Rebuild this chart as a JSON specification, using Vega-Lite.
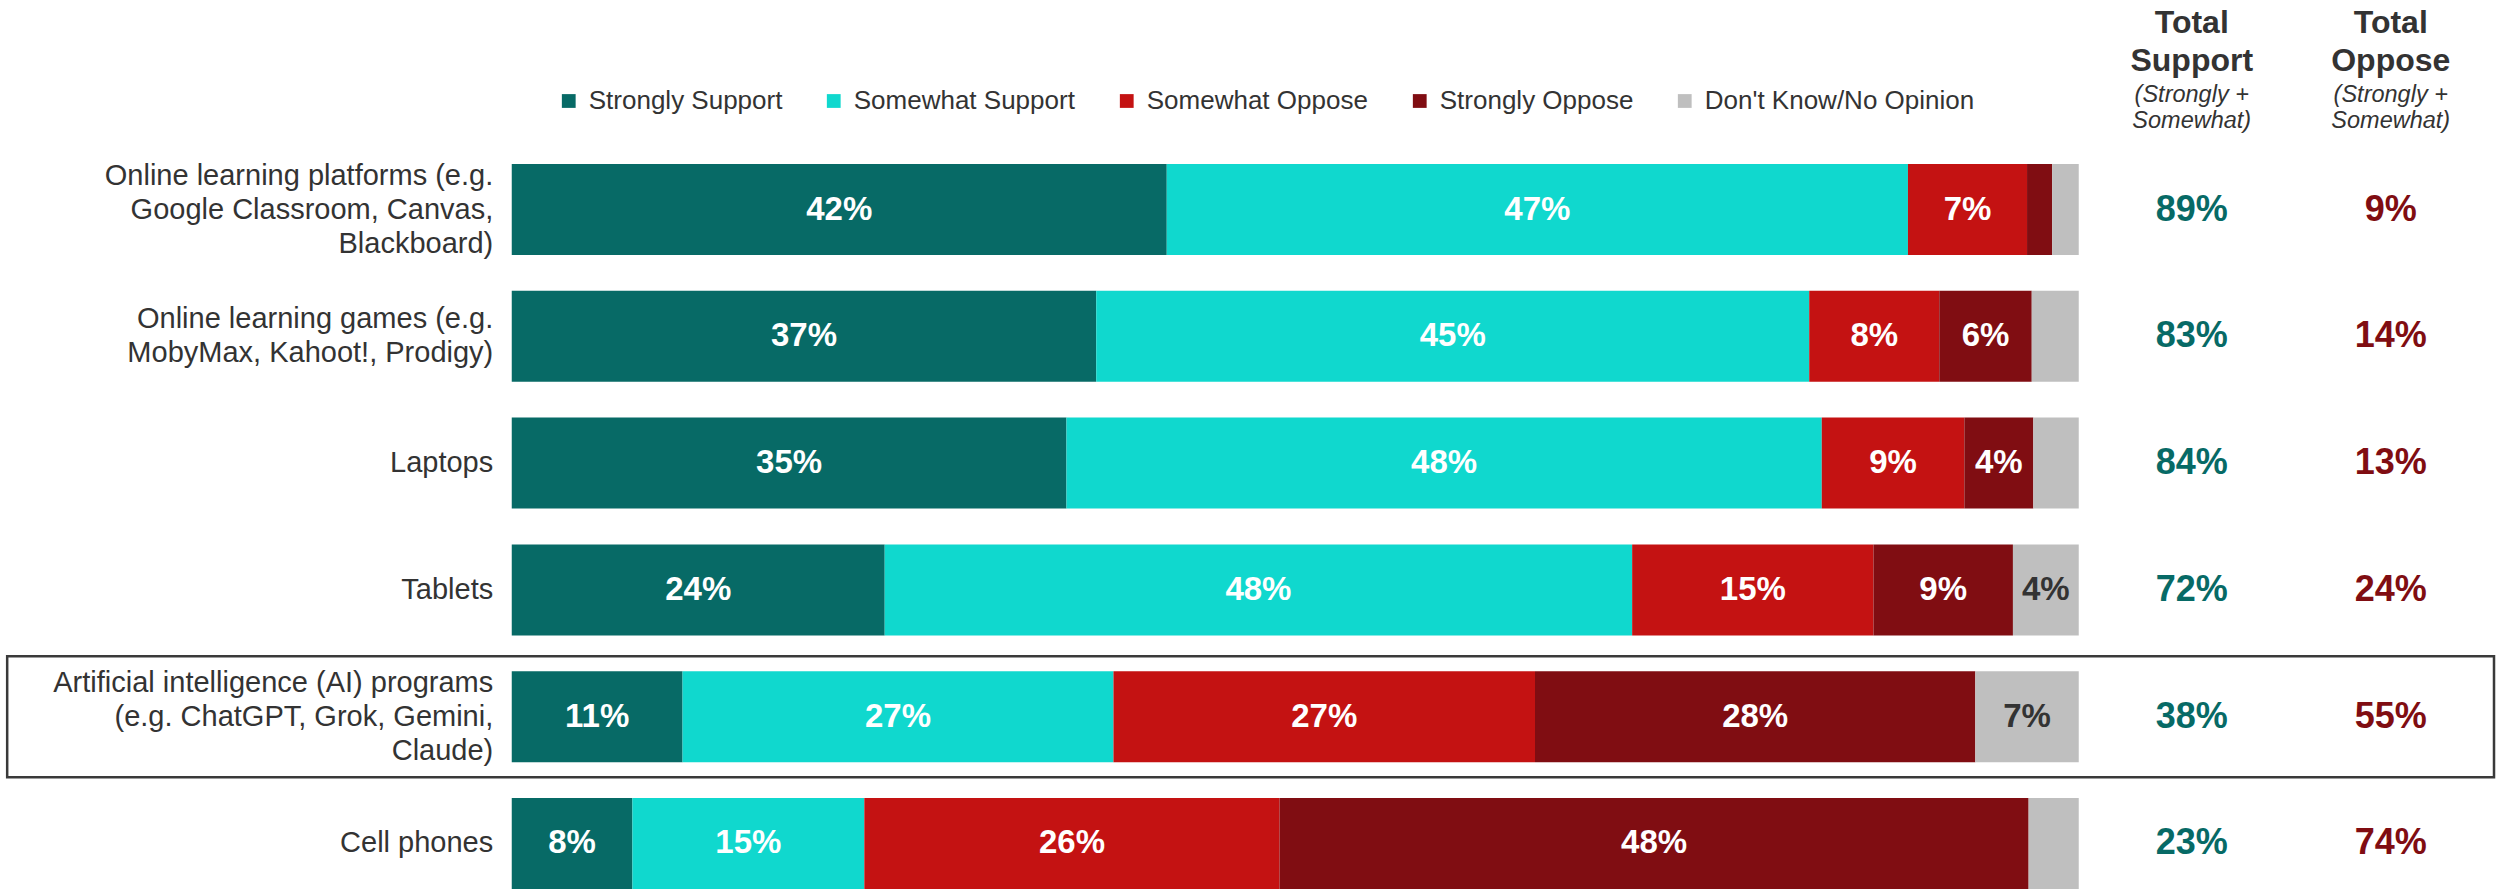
{
  "$schema": "https://vega.github.io/schema/vega-lite/v6.json",
  "padding": {"left": 5.75, "top": 6, "right": 0, "bottom": 0},
  "background": "white",
  "spacing": 0,
  "bounds": "flush",
  "config": {
    "font": "Liberation Sans",
    "view": {"stroke": null},
    "title": {
      "font": "Liberation Sans",
      "fontSize": 32,
      "fontWeight": "bold",
      "color": "#333333",
      "lineHeight": 38,
      "subtitleFont": "Liberation Sans",
      "subtitleFontSize": 23.5,
      "subtitleFontStyle": "italic",
      "subtitleColor": "#333333",
      "subtitleLineHeight": 26,
      "subtitlePadding": 5,
      "anchor": "middle",
      "offset": 31
    }
  },
  "datasets": {
    "resp": [
      {"item": "Online learning platforms (e.g.\nGoogle Classroom, Canvas,\nBlackboard)", "resp": "Strongly Support", "value": 41.8, "lab": "42%"},
      {"item": "Online learning platforms (e.g.\nGoogle Classroom, Canvas,\nBlackboard)", "resp": "Somewhat Support", "value": 47.3, "lab": "47%"},
      {"item": "Online learning platforms (e.g.\nGoogle Classroom, Canvas,\nBlackboard)", "resp": "Somewhat Oppose", "value": 7.6, "lab": "7%"},
      {"item": "Online learning platforms (e.g.\nGoogle Classroom, Canvas,\nBlackboard)", "resp": "Strongly Oppose", "value": 1.6, "lab": null},
      {"item": "Online learning platforms (e.g.\nGoogle Classroom, Canvas,\nBlackboard)", "resp": "Don't Know/No Opinion", "value": 1.7, "lab": null},
      {"item": "Online learning games (e.g.\nMobyMax, Kahoot!, Prodigy)", "resp": "Strongly Support", "value": 37.3, "lab": "37%"},
      {"item": "Online learning games (e.g.\nMobyMax, Kahoot!, Prodigy)", "resp": "Somewhat Support", "value": 45.5, "lab": "45%"},
      {"item": "Online learning games (e.g.\nMobyMax, Kahoot!, Prodigy)", "resp": "Somewhat Oppose", "value": 8.3, "lab": "8%"},
      {"item": "Online learning games (e.g.\nMobyMax, Kahoot!, Prodigy)", "resp": "Strongly Oppose", "value": 5.9, "lab": "6%"},
      {"item": "Online learning games (e.g.\nMobyMax, Kahoot!, Prodigy)", "resp": "Don't Know/No Opinion", "value": 3.0, "lab": null},
      {"item": "Laptops", "resp": "Strongly Support", "value": 35.4, "lab": "35%"},
      {"item": "Laptops", "resp": "Somewhat Support", "value": 48.2, "lab": "48%"},
      {"item": "Laptops", "resp": "Somewhat Oppose", "value": 9.1, "lab": "9%"},
      {"item": "Laptops", "resp": "Strongly Oppose", "value": 4.4, "lab": "4%"},
      {"item": "Laptops", "resp": "Don't Know/No Opinion", "value": 2.9, "lab": null},
      {"item": "Tablets", "resp": "Strongly Support", "value": 23.8, "lab": "24%"},
      {"item": "Tablets", "resp": "Somewhat Support", "value": 47.7, "lab": "48%"},
      {"item": "Tablets", "resp": "Somewhat Oppose", "value": 15.4, "lab": "15%"},
      {"item": "Tablets", "resp": "Strongly Oppose", "value": 8.9, "lab": "9%"},
      {"item": "Tablets", "resp": "Don't Know/No Opinion", "value": 4.2, "lab": "4%"},
      {"item": "Artificial intelligence (AI) programs\n(e.g. ChatGPT, Grok, Gemini,\nClaude)", "resp": "Strongly Support", "value": 10.9, "lab": "11%"},
      {"item": "Artificial intelligence (AI) programs\n(e.g. ChatGPT, Grok, Gemini,\nClaude)", "resp": "Somewhat Support", "value": 27.5, "lab": "27%"},
      {"item": "Artificial intelligence (AI) programs\n(e.g. ChatGPT, Grok, Gemini,\nClaude)", "resp": "Somewhat Oppose", "value": 26.9, "lab": "27%"},
      {"item": "Artificial intelligence (AI) programs\n(e.g. ChatGPT, Grok, Gemini,\nClaude)", "resp": "Strongly Oppose", "value": 28.1, "lab": "28%"},
      {"item": "Artificial intelligence (AI) programs\n(e.g. ChatGPT, Grok, Gemini,\nClaude)", "resp": "Don't Know/No Opinion", "value": 6.6, "lab": "7%"},
      {"item": "Cell phones", "resp": "Strongly Support", "value": 7.7, "lab": "8%"},
      {"item": "Cell phones", "resp": "Somewhat Support", "value": 14.8, "lab": "15%"},
      {"item": "Cell phones", "resp": "Somewhat Oppose", "value": 26.5, "lab": "26%"},
      {"item": "Cell phones", "resp": "Strongly Oppose", "value": 47.8, "lab": "48%"},
      {"item": "Cell phones", "resp": "Don't Know/No Opinion", "value": 3.2, "lab": null}
    ],
    "totals": [
      {"item": "Online learning platforms (e.g.\nGoogle Classroom, Canvas,\nBlackboard)", "support": 0.89, "oppose": 0.09},
      {"item": "Online learning games (e.g.\nMobyMax, Kahoot!, Prodigy)", "support": 0.83, "oppose": 0.14},
      {"item": "Laptops", "support": 0.84, "oppose": 0.13},
      {"item": "Tablets", "support": 0.72, "oppose": 0.24},
      {"item": "Artificial intelligence (AI) programs\n(e.g. ChatGPT, Grok, Gemini,\nClaude)", "support": 0.38, "oppose": 0.55},
      {"item": "Cell phones", "support": 0.23, "oppose": 0.74}
    ]
  },
  "hconcat": [
    {
      "width": 1567,
      "height": 725,
      "data": {"name": "resp"},
      "transform": [{"stack": "value", "groupby": ["item"], "as": ["v0", "v1"]}],
      "encoding": {
        "y": {
          "field": "item",
          "type": "nominal",
          "sort": null,
          "scale": {"paddingInner": 0.282, "paddingOuter": 0},
          "axis": {
            "title": null,
            "ticks": false,
            "domain": false,
            "labelPadding": 19,
            "labelFontSize": 29,
            "labelColor": "#333333",
            "labelLineHeight": 34,
            "labelLimit": 1000,
            "labelOffset": {
              "condition": [
                {"test": "length(split(datum.value, '\\n')) == 3", "value": -34},
                {"test": "length(split(datum.value, '\\n')) == 2", "value": -17}
              ],
              "value": 0
            },
            "labelExpr": "split(datum.label, '\\n')"
          }
        }
      },
      "layer": [
        {
          "mark": {"type": "bar"},
          "encoding": {
            "x": {"field": "v0", "type": "quantitative", "scale": {"domain": [0, 100], "nice": false}, "axis": null},
            "x2": {"field": "v1"},
            "color": {
              "field": "resp",
              "type": "nominal",
              "scale": {
                "domain": ["Strongly Support", "Somewhat Support", "Somewhat Oppose", "Strongly Oppose", "Don't Know/No Opinion"],
                "range": ["#076A66", "#10D8CE", "#C41212", "#800D12", "#BFBFBF"]
              },
              "legend": {
                "orient": "none",
                "legendX": 44,
                "legendY": -76,
                "direction": "horizontal",
                "title": null,
                "symbolType": "square",
                "symbolSize": 190,
                "symbolStrokeWidth": 0,
                "labelFontSize": 26,
                "labelColor": "#333333",
                "labelOffset": 7,
                "labelLimit": 600,
                "columnPadding": 38,
                "padding": 0
              }
            }
          }
        },
        {
          "transform": [{"filter": "isValid(datum.lab)"}],
          "mark": {"type": "text", "fontSize": 33, "fontWeight": "bold"},
          "encoding": {
            "x": {"field": "value", "type": "quantitative", "stack": "zero", "bandPosition": 0.5},
            "detail": {"field": "resp"},
            "order": {"field": "v0", "type": "quantitative"},
            "text": {"field": "lab"},
            "color": {
              "condition": {"test": "indexof(datum.resp, 'Know') >= 0", "value": "#333333"},
              "value": "white"
            }
          }
        },
        {
          "transform": [{"filter": "indexof(datum.item, 'Artificial') >= 0 && datum.resp === 'Strongly Support'"}],
          "mark": {"type": "rect", "fill": null, "stroke": "#3a3a3a", "strokeWidth": 2.5, "height": {"band": 1.33}},
          "encoding": {
            "x": {"datum": -32.2},
            "x2": {"datum": 126.5}
          }
        }
      ]
    },
    {
      "width": 226,
      "height": 725,
      "data": {"name": "totals"},
      "title": {"text": ["Total", "Support"], "subtitle": ["(Strongly +", "Somewhat)"]},
      "mark": {"type": "text", "fontSize": 36, "fontWeight": "bold", "color": "#076A66"},
      "encoding": {
        "y": {"field": "item", "type": "nominal", "sort": null, "scale": {"type": "band", "paddingInner": 0.282, "paddingOuter": 0}, "axis": null},
        "text": {"field": "support", "type": "quantitative", "format": ".0%"}
      }
    },
    {
      "width": 172,
      "height": 725,
      "data": {"name": "totals"},
      "title": {"text": ["Total", "Oppose"], "subtitle": ["(Strongly +", "Somewhat)"]},
      "mark": {"type": "text", "fontSize": 36, "fontWeight": "bold", "color": "#800D12"},
      "encoding": {
        "y": {"field": "item", "type": "nominal", "sort": null, "scale": {"type": "band", "paddingInner": 0.282, "paddingOuter": 0}, "axis": null},
        "text": {"field": "oppose", "type": "quantitative", "format": ".0%"}
      }
    }
  ]
}
